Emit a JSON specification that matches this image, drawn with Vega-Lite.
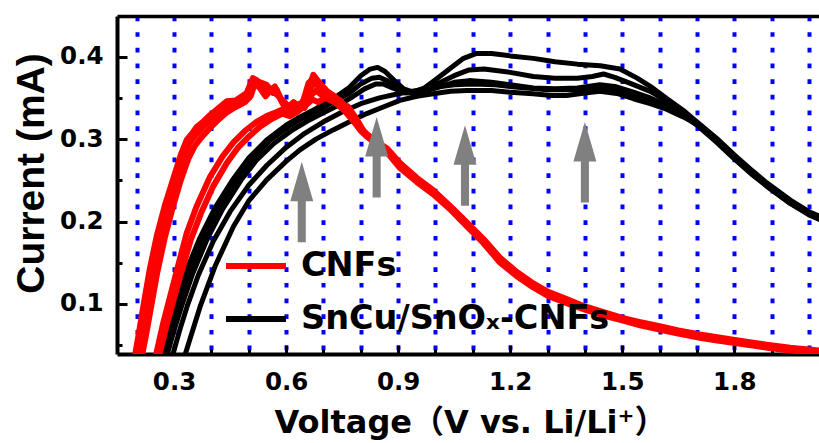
{
"$schema":"https://vega.github.io/schema/vega-lite/v6.json",
"width":702,"height":338,
"autosize":{"type":"none"},
"padding":{"left":117,"top":16,"right":0,"bottom":89},
"background":"white",
"config":{"view":{"stroke":null}},
"datasets":{
"sncu":[
{"cycle":"B1","V":0.258,"I":0.03},{"cycle":"B1","V":0.262,"I":0.039},{"cycle":"B1","V":0.28,"I":0.068},{"cycle":"B1","V":0.30,"I":0.097},{"cycle":"B1","V":0.33,"I":0.137},{"cycle":"B1","V":0.369,"I":0.18},{"cycle":"B1","V":0.41,"I":0.217},{"cycle":"B1","V":0.459,"I":0.252},{"cycle":"B1","V":0.50,"I":0.277},{"cycle":"B1","V":0.548,"I":0.299},{"cycle":"B1","V":0.60,"I":0.317},{"cycle":"B1","V":0.637,"I":0.327},{"cycle":"B1","V":0.68,"I":0.337},{"cycle":"B1","V":0.726,"I":0.349},{"cycle":"B1","V":0.77,"I":0.363},{"cycle":"B1","V":0.80,"I":0.377},{"cycle":"B1","V":0.825,"I":0.385},{"cycle":"B1","V":0.845,"I":0.387},{"cycle":"B1","V":0.865,"I":0.382},{"cycle":"B1","V":0.89,"I":0.371},{"cycle":"B1","V":0.915,"I":0.361},{"cycle":"B1","V":0.94,"I":0.357},{"cycle":"B1","V":0.97,"I":0.362},{"cycle":"B1","V":1.0,"I":0.372},{"cycle":"B1","V":1.04,"I":0.386},{"cycle":"B1","V":1.075,"I":0.398},{"cycle":"B1","V":1.11,"I":0.404},{"cycle":"B1","V":1.15,"I":0.404},{"cycle":"B1","V":1.2,"I":0.401},{"cycle":"B1","V":1.262,"I":0.398},{"cycle":"B1","V":1.32,"I":0.394},{"cycle":"B1","V":1.38,"I":0.391},{"cycle":"B1","V":1.441,"I":0.389},{"cycle":"B1","V":1.494,"I":0.385},{"cycle":"B1","V":1.54,"I":0.374},{"cycle":"B1","V":1.575,"I":0.364},{"cycle":"B1","V":1.62,"I":0.349},{"cycle":"B1","V":1.663,"I":0.335},{"cycle":"B1","V":1.70,"I":0.321},{"cycle":"B1","V":1.753,"I":0.301},{"cycle":"B1","V":1.80,"I":0.281},{"cycle":"B1","V":1.85,"I":0.261},{"cycle":"B1","V":1.887,"I":0.247},{"cycle":"B1","V":1.95,"I":0.226},{"cycle":"B1","V":2.0,"I":0.212},{"cycle":"B1","V":2.04,"I":0.204},
{"cycle":"B2","V":0.268,"I":0.03},{"cycle":"B2","V":0.272,"I":0.039},{"cycle":"B2","V":0.29,"I":0.068},{"cycle":"B2","V":0.31,"I":0.097},{"cycle":"B2","V":0.34,"I":0.137},{"cycle":"B2","V":0.379,"I":0.18},{"cycle":"B2","V":0.42,"I":0.217},{"cycle":"B2","V":0.469,"I":0.252},{"cycle":"B2","V":0.51,"I":0.277},{"cycle":"B2","V":0.558,"I":0.299},{"cycle":"B2","V":0.61,"I":0.316},{"cycle":"B2","V":0.647,"I":0.326},{"cycle":"B2","V":0.69,"I":0.336},{"cycle":"B2","V":0.726,"I":0.345},{"cycle":"B2","V":0.77,"I":0.356},{"cycle":"B2","V":0.80,"I":0.367},{"cycle":"B2","V":0.83,"I":0.374},{"cycle":"B2","V":0.85,"I":0.375},{"cycle":"B2","V":0.87,"I":0.371},{"cycle":"B2","V":0.90,"I":0.362},{"cycle":"B2","V":0.93,"I":0.357},{"cycle":"B2","V":0.96,"I":0.358},{"cycle":"B2","V":1.0,"I":0.366},{"cycle":"B2","V":1.05,"I":0.377},{"cycle":"B2","V":1.09,"I":0.384},{"cycle":"B2","V":1.13,"I":0.385},{"cycle":"B2","V":1.2,"I":0.381},{"cycle":"B2","V":1.262,"I":0.376},{"cycle":"B2","V":1.32,"I":0.374},{"cycle":"B2","V":1.38,"I":0.374},{"cycle":"B2","V":1.42,"I":0.376},{"cycle":"B2","V":1.45,"I":0.379},{"cycle":"B2","V":1.48,"I":0.375},{"cycle":"B2","V":1.52,"I":0.368},{"cycle":"B2","V":1.575,"I":0.358},{"cycle":"B2","V":1.62,"I":0.346},{"cycle":"B2","V":1.663,"I":0.333},{"cycle":"B2","V":1.70,"I":0.32},{"cycle":"B2","V":1.753,"I":0.299},{"cycle":"B2","V":1.80,"I":0.278},{"cycle":"B2","V":1.85,"I":0.258},{"cycle":"B2","V":1.887,"I":0.244},{"cycle":"B2","V":1.95,"I":0.223},{"cycle":"B2","V":2.0,"I":0.21},{"cycle":"B2","V":2.04,"I":0.202},
{"cycle":"B3","V":0.278,"I":0.03},{"cycle":"B3","V":0.282,"I":0.039},{"cycle":"B3","V":0.30,"I":0.068},{"cycle":"B3","V":0.32,"I":0.097},{"cycle":"B3","V":0.35,"I":0.137},{"cycle":"B3","V":0.39,"I":0.18},{"cycle":"B3","V":0.43,"I":0.215},{"cycle":"B3","V":0.479,"I":0.25},{"cycle":"B3","V":0.52,"I":0.274},{"cycle":"B3","V":0.568,"I":0.295},{"cycle":"B3","V":0.62,"I":0.312},{"cycle":"B3","V":0.657,"I":0.322},{"cycle":"B3","V":0.70,"I":0.332},{"cycle":"B3","V":0.74,"I":0.341},{"cycle":"B3","V":0.78,"I":0.352},{"cycle":"B3","V":0.81,"I":0.361},{"cycle":"B3","V":0.84,"I":0.367},{"cycle":"B3","V":0.86,"I":0.367},{"cycle":"B3","V":0.885,"I":0.362},{"cycle":"B3","V":0.92,"I":0.356},{"cycle":"B3","V":0.96,"I":0.357},{"cycle":"B3","V":1.0,"I":0.362},{"cycle":"B3","V":1.05,"I":0.369},{"cycle":"B3","V":1.09,"I":0.371},{"cycle":"B3","V":1.15,"I":0.369},{"cycle":"B3","V":1.2,"I":0.366},{"cycle":"B3","V":1.262,"I":0.362},{"cycle":"B3","V":1.32,"I":0.361},{"cycle":"B3","V":1.38,"I":0.362},{"cycle":"B3","V":1.44,"I":0.366},{"cycle":"B3","V":1.48,"I":0.364},{"cycle":"B3","V":1.53,"I":0.357},{"cycle":"B3","V":1.575,"I":0.35},{"cycle":"B3","V":1.62,"I":0.341},{"cycle":"B3","V":1.663,"I":0.329},{"cycle":"B3","V":1.70,"I":0.317},{"cycle":"B3","V":1.753,"I":0.296},{"cycle":"B3","V":1.80,"I":0.276},{"cycle":"B3","V":1.85,"I":0.256},{"cycle":"B3","V":1.887,"I":0.243},{"cycle":"B3","V":1.95,"I":0.222},{"cycle":"B3","V":2.0,"I":0.209},{"cycle":"B3","V":2.04,"I":0.201},
{"cycle":"B4","V":0.292,"I":0.03},{"cycle":"B4","V":0.297,"I":0.039},{"cycle":"B4","V":0.315,"I":0.068},{"cycle":"B4","V":0.335,"I":0.097},{"cycle":"B4","V":0.365,"I":0.135},{"cycle":"B4","V":0.405,"I":0.176},{"cycle":"B4","V":0.45,"I":0.212},{"cycle":"B4","V":0.50,"I":0.244},{"cycle":"B4","V":0.548,"I":0.268},{"cycle":"B4","V":0.60,"I":0.29},{"cycle":"B4","V":0.65,"I":0.307},{"cycle":"B4","V":0.70,"I":0.321},{"cycle":"B4","V":0.75,"I":0.333},{"cycle":"B4","V":0.80,"I":0.343},{"cycle":"B4","V":0.85,"I":0.35},{"cycle":"B4","V":0.90,"I":0.355},{"cycle":"B4","V":0.95,"I":0.359},{"cycle":"B4","V":1.0,"I":0.363},{"cycle":"B4","V":1.05,"I":0.366},{"cycle":"B4","V":1.1,"I":0.367},{"cycle":"B4","V":1.16,"I":0.366},{"cycle":"B4","V":1.22,"I":0.363},{"cycle":"B4","V":1.3,"I":0.36},{"cycle":"B4","V":1.38,"I":0.36},{"cycle":"B4","V":1.44,"I":0.362},{"cycle":"B4","V":1.5,"I":0.358},{"cycle":"B4","V":1.55,"I":0.352},{"cycle":"B4","V":1.6,"I":0.344},{"cycle":"B4","V":1.65,"I":0.334},{"cycle":"B4","V":1.70,"I":0.32},{"cycle":"B4","V":1.753,"I":0.30},{"cycle":"B4","V":1.80,"I":0.279},{"cycle":"B4","V":1.85,"I":0.259},{"cycle":"B4","V":1.887,"I":0.245},{"cycle":"B4","V":1.95,"I":0.224},{"cycle":"B4","V":2.0,"I":0.211},{"cycle":"B4","V":2.04,"I":0.203},
{"cycle":"B5","V":0.325,"I":0.03},{"cycle":"B5","V":0.33,"I":0.039},{"cycle":"B5","V":0.35,"I":0.068},{"cycle":"B5","V":0.37,"I":0.097},{"cycle":"B5","V":0.41,"I":0.146},{"cycle":"B5","V":0.459,"I":0.194},{"cycle":"B5","V":0.50,"I":0.225},{"cycle":"B5","V":0.548,"I":0.2506},{"cycle":"B5","V":0.60,"I":0.273},{"cycle":"B5","V":0.637,"I":0.287},{"cycle":"B5","V":0.68,"I":0.30},{"cycle":"B5","V":0.726,"I":0.3112},{"cycle":"B5","V":0.77,"I":0.321},{"cycle":"B5","V":0.816,"I":0.331},{"cycle":"B5","V":0.86,"I":0.339},{"cycle":"B5","V":0.905,"I":0.347},{"cycle":"B5","V":0.95,"I":0.352},{"cycle":"B5","V":0.994,"I":0.355},{"cycle":"B5","V":1.04,"I":0.358},{"cycle":"B5","V":1.084,"I":0.359},{"cycle":"B5","V":1.15,"I":0.359},{"cycle":"B5","V":1.2,"I":0.357},{"cycle":"B5","V":1.261,"I":0.355},{"cycle":"B5","V":1.31,"I":0.353},{"cycle":"B5","V":1.351,"I":0.353},{"cycle":"B5","V":1.40,"I":0.356},{"cycle":"B5","V":1.44,"I":0.358},{"cycle":"B5","V":1.49,"I":0.355},{"cycle":"B5","V":1.53,"I":0.349},{"cycle":"B5","V":1.575,"I":0.343},{"cycle":"B5","V":1.62,"I":0.336},{"cycle":"B5","V":1.663,"I":0.327},{"cycle":"B5","V":1.70,"I":0.318},{"cycle":"B5","V":1.753,"I":0.298},{"cycle":"B5","V":1.80,"I":0.277},{"cycle":"B5","V":1.85,"I":0.257},{"cycle":"B5","V":1.887,"I":0.243},{"cycle":"B5","V":1.95,"I":0.222},{"cycle":"B5","V":2.0,"I":0.208},{"cycle":"B5","V":2.04,"I":0.2}
],
"cnf":[
{"cycle":"R1","V":0.192,"I":0.03},{"cycle":"R1","V":0.196,"I":0.039},{"cycle":"R1","V":0.205,"I":0.062},{"cycle":"R1","V":0.218,"I":0.098},{"cycle":"R1","V":0.235,"I":0.142},{"cycle":"R1","V":0.2535,"I":0.182},{"cycle":"R1","V":0.275,"I":0.219},{"cycle":"R1","V":0.298,"I":0.252},{"cycle":"R1","V":0.318,"I":0.281},{"cycle":"R1","V":0.334,"I":0.299},{"cycle":"R1","V":0.35,"I":0.308},{"cycle":"R1","V":0.361,"I":0.315},{"cycle":"R1","V":0.38,"I":0.322},{"cycle":"R1","V":0.396,"I":0.329},{"cycle":"R1","V":0.42,"I":0.338},{"cycle":"R1","V":0.441,"I":0.346},{"cycle":"R1","V":0.465,"I":0.347},{"cycle":"R1","V":0.4945,"I":0.356},{"cycle":"R1","V":0.511,"I":0.374},{"cycle":"R1","V":0.525,"I":0.37},{"cycle":"R1","V":0.548,"I":0.366},{"cycle":"R1","V":0.565,"I":0.356},{"cycle":"R1","V":0.575,"I":0.36},{"cycle":"R1","V":0.59,"I":0.345},{"cycle":"R1","V":0.602,"I":0.337},{"cycle":"R1","V":0.62,"I":0.345},{"cycle":"R1","V":0.637,"I":0.339},{"cycle":"R1","V":0.655,"I":0.355},{"cycle":"R1","V":0.673,"I":0.378},{"cycle":"R1","V":0.69,"I":0.368},{"cycle":"R1","V":0.71,"I":0.358},{"cycle":"R1","V":0.73,"I":0.352},{"cycle":"R1","V":0.745,"I":0.344},{"cycle":"R1","V":0.762,"I":0.338},{"cycle":"R1","V":0.78,"I":0.322},{"cycle":"R1","V":0.80,"I":0.31},{"cycle":"R1","V":0.816,"I":0.303},{"cycle":"R1","V":0.84,"I":0.295},{"cycle":"R1","V":0.87,"I":0.286},{"cycle":"R1","V":0.905,"I":0.268},{"cycle":"R1","V":0.95,"I":0.25},{"cycle":"R1","V":0.994,"I":0.235},{"cycle":"R1","V":1.039,"I":0.217},{"cycle":"R1","V":1.084,"I":0.196},{"cycle":"R1","V":1.128,"I":0.176},{"cycle":"R1","V":1.173,"I":0.153},{"cycle":"R1","V":1.217,"I":0.136},{"cycle":"R1","V":1.262,"I":0.122},{"cycle":"R1","V":1.30,"I":0.112},{"cycle":"R1","V":1.351,"I":0.103},{"cycle":"R1","V":1.40,"I":0.095},{"cycle":"R1","V":1.45,"I":0.088},{"cycle":"R1","V":1.50,"I":0.081},{"cycle":"R1","V":1.548,"I":0.076},{"cycle":"R1","V":1.60,"I":0.071},{"cycle":"R1","V":1.65,"I":0.066},{"cycle":"R1","V":1.708,"I":0.061},{"cycle":"R1","V":1.75,"I":0.058},{"cycle":"R1","V":1.797,"I":0.0545},{"cycle":"R1","V":1.85,"I":0.051},{"cycle":"R1","V":1.887,"I":0.0485},{"cycle":"R1","V":1.95,"I":0.045},{"cycle":"R1","V":2.04,"I":0.041},
{"cycle":"R2","V":0.20,"I":0.03},{"cycle":"R2","V":0.205,"I":0.039},{"cycle":"R2","V":0.215,"I":0.065},{"cycle":"R2","V":0.228,"I":0.1},{"cycle":"R2","V":0.245,"I":0.143},{"cycle":"R2","V":0.264,"I":0.183},{"cycle":"R2","V":0.285,"I":0.22},{"cycle":"R2","V":0.306,"I":0.252},{"cycle":"R2","V":0.325,"I":0.279},{"cycle":"R2","V":0.343,"I":0.296},{"cycle":"R2","V":0.36,"I":0.306},{"cycle":"R2","V":0.38,"I":0.316},{"cycle":"R2","V":0.40,"I":0.324},{"cycle":"R2","V":0.425,"I":0.334},{"cycle":"R2","V":0.45,"I":0.341},{"cycle":"R2","V":0.475,"I":0.344},{"cycle":"R2","V":0.50,"I":0.35},{"cycle":"R2","V":0.515,"I":0.368},{"cycle":"R2","V":0.53,"I":0.362},{"cycle":"R2","V":0.545,"I":0.352},{"cycle":"R2","V":0.56,"I":0.36},{"cycle":"R2","V":0.58,"I":0.352},{"cycle":"R2","V":0.60,"I":0.343},{"cycle":"R2","V":0.615,"I":0.335},{"cycle":"R2","V":0.635,"I":0.342},{"cycle":"R2","V":0.65,"I":0.338},{"cycle":"R2","V":0.665,"I":0.362},{"cycle":"R2","V":0.68,"I":0.37},{"cycle":"R2","V":0.70,"I":0.36},{"cycle":"R2","V":0.72,"I":0.353},{"cycle":"R2","V":0.745,"I":0.347},{"cycle":"R2","V":0.77,"I":0.333},{"cycle":"R2","V":0.79,"I":0.318},{"cycle":"R2","V":0.816,"I":0.306},{"cycle":"R2","V":0.845,"I":0.296},{"cycle":"R2","V":0.87,"I":0.289},{"cycle":"R2","V":0.905,"I":0.271},{"cycle":"R2","V":0.95,"I":0.253},{"cycle":"R2","V":0.994,"I":0.238},{"cycle":"R2","V":1.039,"I":0.219},{"cycle":"R2","V":1.084,"I":0.199},{"cycle":"R2","V":1.128,"I":0.179},{"cycle":"R2","V":1.173,"I":0.156},{"cycle":"R2","V":1.217,"I":0.139},{"cycle":"R2","V":1.262,"I":0.125},{"cycle":"R2","V":1.30,"I":0.115},{"cycle":"R2","V":1.351,"I":0.106},{"cycle":"R2","V":1.40,"I":0.097},{"cycle":"R2","V":1.45,"I":0.09},{"cycle":"R2","V":1.50,"I":0.083},{"cycle":"R2","V":1.548,"I":0.078},{"cycle":"R2","V":1.60,"I":0.073},{"cycle":"R2","V":1.65,"I":0.068},{"cycle":"R2","V":1.708,"I":0.063},{"cycle":"R2","V":1.75,"I":0.06},{"cycle":"R2","V":1.797,"I":0.0565},{"cycle":"R2","V":1.85,"I":0.053},{"cycle":"R2","V":1.887,"I":0.0505},{"cycle":"R2","V":1.95,"I":0.047},{"cycle":"R2","V":2.04,"I":0.043},
{"cycle":"R3","V":0.21,"I":0.03},{"cycle":"R3","V":0.215,"I":0.039},{"cycle":"R3","V":0.225,"I":0.062},{"cycle":"R3","V":0.238,"I":0.095},{"cycle":"R3","V":0.255,"I":0.138},{"cycle":"R3","V":0.275,"I":0.18},{"cycle":"R3","V":0.297,"I":0.218},{"cycle":"R3","V":0.318,"I":0.25},{"cycle":"R3","V":0.338,"I":0.276},{"cycle":"R3","V":0.356,"I":0.292},{"cycle":"R3","V":0.375,"I":0.303},{"cycle":"R3","V":0.395,"I":0.313},{"cycle":"R3","V":0.415,"I":0.322},{"cycle":"R3","V":0.44,"I":0.332},{"cycle":"R3","V":0.465,"I":0.339},{"cycle":"R3","V":0.49,"I":0.345},{"cycle":"R3","V":0.505,"I":0.352},{"cycle":"R3","V":0.52,"I":0.372},{"cycle":"R3","V":0.535,"I":0.365},{"cycle":"R3","V":0.555,"I":0.358},{"cycle":"R3","V":0.57,"I":0.364},{"cycle":"R3","V":0.585,"I":0.348},{"cycle":"R3","V":0.605,"I":0.332},{"cycle":"R3","V":0.625,"I":0.34},{"cycle":"R3","V":0.645,"I":0.345},{"cycle":"R3","V":0.66,"I":0.368},{"cycle":"R3","V":0.675,"I":0.374},{"cycle":"R3","V":0.69,"I":0.36},{"cycle":"R3","V":0.715,"I":0.355},{"cycle":"R3","V":0.74,"I":0.342},{"cycle":"R3","V":0.765,"I":0.34},{"cycle":"R3","V":0.785,"I":0.327},{"cycle":"R3","V":0.81,"I":0.308},{"cycle":"R3","V":0.835,"I":0.298},{"cycle":"R3","V":0.87,"I":0.284},{"cycle":"R3","V":0.905,"I":0.265},{"cycle":"R3","V":0.95,"I":0.248},{"cycle":"R3","V":0.994,"I":0.233},{"cycle":"R3","V":1.039,"I":0.215},{"cycle":"R3","V":1.084,"I":0.194},{"cycle":"R3","V":1.128,"I":0.174},{"cycle":"R3","V":1.173,"I":0.15},{"cycle":"R3","V":1.217,"I":0.134},{"cycle":"R3","V":1.262,"I":0.12},{"cycle":"R3","V":1.30,"I":0.11},{"cycle":"R3","V":1.351,"I":0.101},{"cycle":"R3","V":1.40,"I":0.093},{"cycle":"R3","V":1.45,"I":0.086},{"cycle":"R3","V":1.50,"I":0.08},{"cycle":"R3","V":1.548,"I":0.074},{"cycle":"R3","V":1.60,"I":0.069},{"cycle":"R3","V":1.65,"I":0.064},{"cycle":"R3","V":1.708,"I":0.059},{"cycle":"R3","V":1.75,"I":0.056},{"cycle":"R3","V":1.797,"I":0.053},{"cycle":"R3","V":1.85,"I":0.0495},{"cycle":"R3","V":1.887,"I":0.047},{"cycle":"R3","V":1.95,"I":0.0435},{"cycle":"R3","V":2.04,"I":0.04},
{"cycle":"R4","V":0.245,"I":0.03},{"cycle":"R4","V":0.253,"I":0.0405},{"cycle":"R4","V":0.27,"I":0.075},{"cycle":"R4","V":0.29,"I":0.11},{"cycle":"R4","V":0.31,"I":0.145},{"cycle":"R4","V":0.334,"I":0.186},{"cycle":"R4","V":0.36,"I":0.218},{"cycle":"R4","V":0.396,"I":0.254},{"cycle":"R4","V":0.43,"I":0.279},{"cycle":"R4","V":0.459,"I":0.296},{"cycle":"R4","V":0.49,"I":0.31},{"cycle":"R4","V":0.521,"I":0.321},{"cycle":"R4","V":0.548,"I":0.328},{"cycle":"R4","V":0.575,"I":0.333},{"cycle":"R4","V":0.60,"I":0.338},{"cycle":"R4","V":0.62,"I":0.334},{"cycle":"R4","V":0.64,"I":0.342},{"cycle":"R4","V":0.66,"I":0.35},{"cycle":"R4","V":0.68,"I":0.359},{"cycle":"R4","V":0.70,"I":0.352},{"cycle":"R4","V":0.725,"I":0.346},{"cycle":"R4","V":0.75,"I":0.341},{"cycle":"R4","V":0.775,"I":0.328},{"cycle":"R4","V":0.80,"I":0.313},{"cycle":"R4","V":0.825,"I":0.302},{"cycle":"R4","V":0.85,"I":0.294},{"cycle":"R4","V":0.88,"I":0.283},{"cycle":"R4","V":0.905,"I":0.27},{"cycle":"R4","V":0.95,"I":0.251},{"cycle":"R4","V":0.994,"I":0.236},{"cycle":"R4","V":1.039,"I":0.218},{"cycle":"R4","V":1.084,"I":0.197},{"cycle":"R4","V":1.128,"I":0.177},{"cycle":"R4","V":1.173,"I":0.154},{"cycle":"R4","V":1.217,"I":0.137},{"cycle":"R4","V":1.262,"I":0.123},{"cycle":"R4","V":1.30,"I":0.113},{"cycle":"R4","V":1.351,"I":0.104},{"cycle":"R4","V":1.40,"I":0.096},{"cycle":"R4","V":1.45,"I":0.089},{"cycle":"R4","V":1.50,"I":0.082},{"cycle":"R4","V":1.548,"I":0.077},{"cycle":"R4","V":1.60,"I":0.072},{"cycle":"R4","V":1.65,"I":0.067},{"cycle":"R4","V":1.708,"I":0.062},{"cycle":"R4","V":1.75,"I":0.059},{"cycle":"R4","V":1.797,"I":0.0555},{"cycle":"R4","V":1.85,"I":0.052},{"cycle":"R4","V":1.887,"I":0.0495},{"cycle":"R4","V":1.95,"I":0.046},{"cycle":"R4","V":2.04,"I":0.042},
{"cycle":"R5","V":0.255,"I":0.03},{"cycle":"R5","V":0.262,"I":0.0405},{"cycle":"R5","V":0.28,"I":0.074},{"cycle":"R5","V":0.30,"I":0.107},{"cycle":"R5","V":0.32,"I":0.139},{"cycle":"R5","V":0.345,"I":0.178},{"cycle":"R5","V":0.372,"I":0.21},{"cycle":"R5","V":0.405,"I":0.243},{"cycle":"R5","V":0.44,"I":0.27},{"cycle":"R5","V":0.47,"I":0.289},{"cycle":"R5","V":0.50,"I":0.303},{"cycle":"R5","V":0.53,"I":0.315},{"cycle":"R5","V":0.56,"I":0.324},{"cycle":"R5","V":0.59,"I":0.331},{"cycle":"R5","V":0.61,"I":0.328},{"cycle":"R5","V":0.63,"I":0.333},{"cycle":"R5","V":0.65,"I":0.34},{"cycle":"R5","V":0.67,"I":0.348},{"cycle":"R5","V":0.685,"I":0.345},{"cycle":"R5","V":0.705,"I":0.35},{"cycle":"R5","V":0.73,"I":0.345},{"cycle":"R5","V":0.755,"I":0.335},{"cycle":"R5","V":0.78,"I":0.322},{"cycle":"R5","V":0.805,"I":0.31},{"cycle":"R5","V":0.83,"I":0.299},{"cycle":"R5","V":0.86,"I":0.29},{"cycle":"R5","V":0.89,"I":0.277},{"cycle":"R5","V":0.92,"I":0.264},{"cycle":"R5","V":0.96,"I":0.248},{"cycle":"R5","V":1.0,"I":0.233},{"cycle":"R5","V":1.039,"I":0.216},{"cycle":"R5","V":1.084,"I":0.195},{"cycle":"R5","V":1.128,"I":0.175},{"cycle":"R5","V":1.173,"I":0.152},{"cycle":"R5","V":1.217,"I":0.135},{"cycle":"R5","V":1.262,"I":0.121},{"cycle":"R5","V":1.30,"I":0.111},{"cycle":"R5","V":1.351,"I":0.102},{"cycle":"R5","V":1.40,"I":0.094},{"cycle":"R5","V":1.45,"I":0.087},{"cycle":"R5","V":1.50,"I":0.081},{"cycle":"R5","V":1.548,"I":0.075},{"cycle":"R5","V":1.60,"I":0.07},{"cycle":"R5","V":1.65,"I":0.065},{"cycle":"R5","V":1.708,"I":0.06},{"cycle":"R5","V":1.75,"I":0.057},{"cycle":"R5","V":1.797,"I":0.054},{"cycle":"R5","V":1.85,"I":0.0505},{"cycle":"R5","V":1.887,"I":0.048},{"cycle":"R5","V":1.95,"I":0.0445},{"cycle":"R5","V":2.04,"I":0.041}
],
"arrows":[
{"V":0.642,"I":0.2237},{"V":0.8425,"I":0.278},{"V":1.079,"I":0.268},{"V":1.40,"I":0.272}
]
},
"layer":[
{"data":{"name":"sncu"},
 "mark":{"type":"line","clip":true,"strokeWidth":5,"strokeJoin":"round"},
 "encoding":{
  "x":{"field":"V","type":"quantitative","scale":{"domain":[0.1473,2.0268],"nice":false,"zero":false},
   "axis":{"orient":"bottom","values":[0.2,0.3,0.4,0.5,0.6,0.7,0.8,0.9,1.0,1.1,1.2,1.3,1.4,1.5,1.6,1.7,1.8,1.9,2.0],
    "labelExpr":"abs(datum.value*10/3-round(datum.value*10/3))<0.01 ? format(datum.value,'.1f') : ''",
    "tickSize":{"condition":{"test":"abs(datum.value*10/3-round(datum.value*10/3))<0.01","value":-9},"value":-5},
    "tickWidth":3,"tickColor":"#000000",
    "labelFont":"DejaVu Sans","labelFontWeight":"bold","labelFontSize":24.5,"labelColor":"#000000",
    "labelPadding":25.5,"labelAlign":"center","labelBaseline":"top","labelOverlap":false,"labelFlush":false,
    "grid":true,"gridColor":"#0000FF","gridWidth":4,"gridDash":[4.7,10.97],"gridDashOffset":0,
    "domainWidth":4,"domainColor":"#000000",
    "title":"Voltage（V vs. Li/Li⁺）","titleFont":"DejaVu Sans, Noto Sans CJK SC","titleFontSize":32,"titleFontWeight":"bold","titleColor":"#000000",
    "titleX":353,"titleY":78,"titleAlign":"center","titleBaseline":"alphabetic"}},
  "y":{"field":"I","type":"quantitative","scale":{"domain":[0.0393,0.4494],"nice":false,"zero":false},
   "axis":{"orient":"left","values":[0.05,0.1,0.15,0.2,0.25,0.3,0.35,0.4],
    "labelExpr":"abs(datum.value*10-round(datum.value*10))<0.01 ? format(datum.value,'.1f') : ''",
    "tickSize":{"condition":{"test":"abs(datum.value*10-round(datum.value*10))<0.01","value":-10},"value":-5},
    "tickWidth":3,"tickColor":"#000000",
    "labelFont":"DejaVu Sans","labelFontWeight":"bold","labelFontSize":24.5,"labelColor":"#000000",
    "labelPadding":24,"labelOverlap":false,"labelFlush":false,
    "grid":false,"domainWidth":4,"domainColor":"#000000",
    "title":"Current (mA)","titleFont":"Liberation Sans","titleFontSize":39,"titleFontWeight":"bold","titleColor":"#000000",
    "titleX":-74,"titleY":157,"titleAngle":-90,"titleAlign":"center","titleBaseline":"alphabetic"}},
  "color":{"datum":"SnCu/SnOₓ-CNFs","type":"nominal",
   "scale":{"domain":["CNFs","SnCu/SnOₓ-CNFs"],"range":["#FF0000","#000000"]},
   "legend":{"orient":"none","legendX":106,"legendY":217,"title":null,"symbolType":"stroke","symbolSize":3600,"symbolStrokeWidth":6,
    "labelFont":"DejaVu Sans","labelFontWeight":"bold","labelFontSize":33.5,"labelColor":"#000000","labelOffset":12,"rowPadding":3,"padding":0,"labelLimit":0}},
  "detail":{"field":"cycle","type":"nominal"}
 }},
{"data":{"name":"cnf"},
 "mark":{"type":"line","clip":true,"strokeWidth":6,"strokeJoin":"round"},
 "encoding":{
  "x":{"field":"V","type":"quantitative","axis":null},
  "y":{"field":"I","type":"quantitative","axis":null},
  "color":{"datum":"CNFs","type":"nominal"},
  "detail":{"field":"cycle","type":"nominal"}
 }},
{"data":{"name":"arrows"},
 "mark":{"type":"point","shape":"M0,-1L0.285,-0.02L0.1,-0.02L0.1,1L-0.1,1L-0.1,-0.02L-0.285,-0.02Z","filled":true,"color":"#808080","opacity":1,"size":6500,"strokeWidth":0},
 "encoding":{
  "x":{"field":"V","type":"quantitative","axis":{"orient":"top","labels":false,"ticks":false,"grid":false,"domainWidth":3.5,"domainColor":"#000000","title":null}},
  "y":{"field":"I","type":"quantitative","axis":null}
 }}
],
"resolve":{"axis":{"x":"independent","y":"independent"}}
}
